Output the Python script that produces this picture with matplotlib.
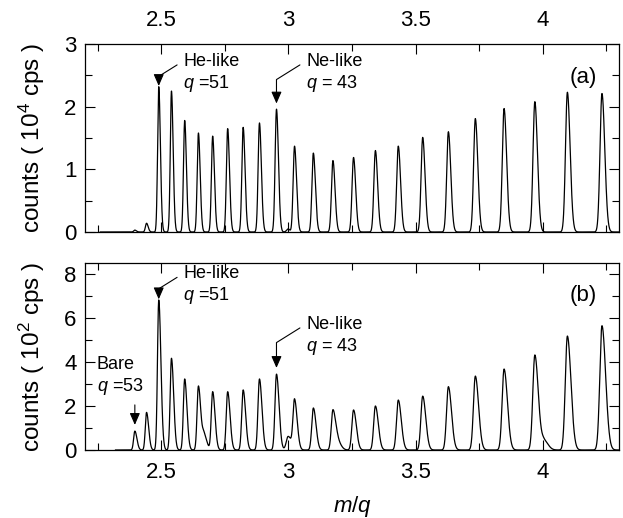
import numpy as np
import matplotlib.pyplot as plt
from matplotlib.ticker import MultipleLocator

plt.rcParams['font.family'] = ['Liberation Sans', 'DejaVu Sans']
plt.rcParams['mathtext.fontset'] = 'custom'
plt.rcParams['mathtext.it'] = 'Liberation Sans:italic'
plt.rcParams['mathtext.rm'] = 'Liberation Sans'

# peak positions (m/q), q = 53 ... 30
centros = np.array([2.396, 2.442, 2.490, 2.540, 2.592, 2.646, 2.702, 2.761, 2.822,
                    2.886, 2.953, 3.024, 3.098, 3.175, 3.256, 3.342, 3.432, 3.528,
                    3.629, 3.735, 3.848, 3.969, 4.097, 4.233])

# panel (a): peak heights in 10^4 cps
alturas_a = np.array([0.03, 0.14, 2.32, 2.25, 1.78, 1.58, 1.53, 1.65, 1.67,
                      1.74, 1.96, 1.37, 1.26, 1.14, 1.19, 1.30, 1.37, 1.51,
                      1.60, 1.81, 1.97, 2.08, 2.23, 2.21])

# panel (b): peak heights in 10^2 cps
alturas_b = np.array([0.86, 1.71, 6.82, 4.17, 3.23, 2.91, 2.65, 2.65, 2.73,
                      3.23, 3.45, 2.26, 1.91, 1.82, 1.82, 2.00, 2.27, 2.45,
                      2.88, 3.36, 3.68, 4.32, 5.18, 5.65])

# small extra peaks / shoulders (position, height)
extra_a_pos = np.array([2.999])
extra_a_h = np.array([0.05])
extra_b_pos = np.array([2.668, 2.999, 3.195, 4.005])
extra_b_h = np.array([0.70, 0.62, 0.33, 0.42])

inicio_a, inicio_b = 2.26, 2.32


def espectro(x, pos, h, izq, der):
    y = np.zeros_like(x)
    for c, a in zip(pos, h):
        s = np.where(x < c, izq * c, der * c)
        y += a * np.exp(-0.5 * ((x - c) / s) ** 2)
    return y


xa = np.linspace(inicio_a, 4.3, 6000)
ya = espectro(xa, centros, alturas_a, 0.0018, 0.0026) + espectro(xa, extra_a_pos, extra_a_h, 0.002, 0.002)
xb = np.linspace(inicio_b, 4.3, 6000)
yb = espectro(xb, centros, alturas_b, 0.0020, 0.0034) + espectro(xb, extra_b_pos, extra_b_h, 0.0025, 0.004)

fig = plt.figure(figsize=(6.23, 5.18), dpi=100)
ax1 = fig.add_axes([85 / 623, 1 - 232 / 518, 534 / 623, 188 / 518])
ax2 = fig.add_axes([85 / 623, 1 - 450 / 518, 534 / 623, 187 / 518])

fs = 16
for ax in (ax1, ax2):
    ax.set_xlim(2.2, 4.3)
    ax.xaxis.set_major_locator(MultipleLocator(0.5))
    ax.xaxis.set_minor_locator(MultipleLocator(0.25))
    ax.tick_params(which='both', direction='in', top=True, right=True, labelsize=fs, width=0.8)
    ax.tick_params(which='major', length=7)
    ax.tick_params(which='minor', length=5)
    ax.tick_params(axis='x', which='both', pad=9)
    ax.tick_params(axis='y', which='both', pad=6)
    for sp in ax.spines.values():
        sp.set_linewidth(0.9)

ax1.plot(xa, ya, color='black', lw=0.9)
ax1.set_ylim(0, 3)
ax1.yaxis.set_major_locator(MultipleLocator(1))
ax1.yaxis.set_minor_locator(MultipleLocator(0.5))
ax1.tick_params(labelbottom=False, labeltop=True)
ax1.set_xticks([2.5, 3, 3.5, 4])
ax1.set_xticklabels(['2.5', '3', '3.5', '4'])
ax1.set_ylabel('counts ( 10$^4$ cps )', fontsize=17.5)
ax1.yaxis.set_label_coords(-0.072, 0.5)

ax2.plot(xb, yb, color='black', lw=0.9)
ax2.set_ylim(0, 8.5)
ax2.yaxis.set_major_locator(MultipleLocator(2))
ax2.yaxis.set_minor_locator(MultipleLocator(1))
ax2.set_xticks([2.5, 3, 3.5, 4])
ax2.set_xticklabels(['2.5', '3', '3.5', '4'])
ax2.set_ylabel('counts ( 10$^2$ cps )', fontsize=17.5)
ax2.yaxis.set_label_coords(-0.072, 0.5)
ax2.set_xlabel('$m/q$', fontsize=fs)
ax2.xaxis.set_label_coords(0.5, -0.235)

cabeza = '-|>,head_length=0.55,head_width=0.24'
flecha = dict(arrowstyle=cabeza, color='black', lw=0.8, shrinkA=3, shrinkB=0,
              connectionstyle='angle,angleA=32,angleB=90,rad=0', relpos=(0, 0.8))
fa = 13

ax1.annotate('He-like\n$q$ =51', xy=(2.490, 2.33), xytext=(2.587, 2.86), fontsize=fa,
             va='top', ha='left', linespacing=1.2, arrowprops=flecha)
ax1.annotate('Ne-like\n$q$ = 43', xy=(2.953, 2.05), xytext=(3.07, 2.86), fontsize=fa,
             va='top', ha='left', linespacing=1.2, arrowprops=flecha)
ax1.text(4.158, 2.46, '(a)', fontsize=fs, ha='center', va='center')

ax2.annotate('He-like\n$q$ =51', xy=(2.490, 6.85), xytext=(2.587, 8.4), fontsize=fa,
             va='top', ha='left', linespacing=1.2, arrowprops=flecha)
ax2.annotate('Ne-like\n$q$ = 43', xy=(2.953, 3.73), xytext=(3.07, 6.1), fontsize=fa,
             va='top', ha='left', linespacing=1.2, arrowprops=flecha)
ax2.text(2.247, 4.28, 'Bare\n$q$ =53', fontsize=fa, va='top', ha='left', linespacing=1.2)
ax2.annotate('', xy=(2.396, 1.14), xytext=(2.396, 2.05),
             arrowprops=dict(arrowstyle=cabeza, color='black', lw=0.8, shrinkA=0, shrinkB=0,
                             mutation_scale=fa))
ax2.text(4.158, 7.0, '(b)', fontsize=fs, ha='center', va='center')

fig.savefig('out.png', dpi=100)
